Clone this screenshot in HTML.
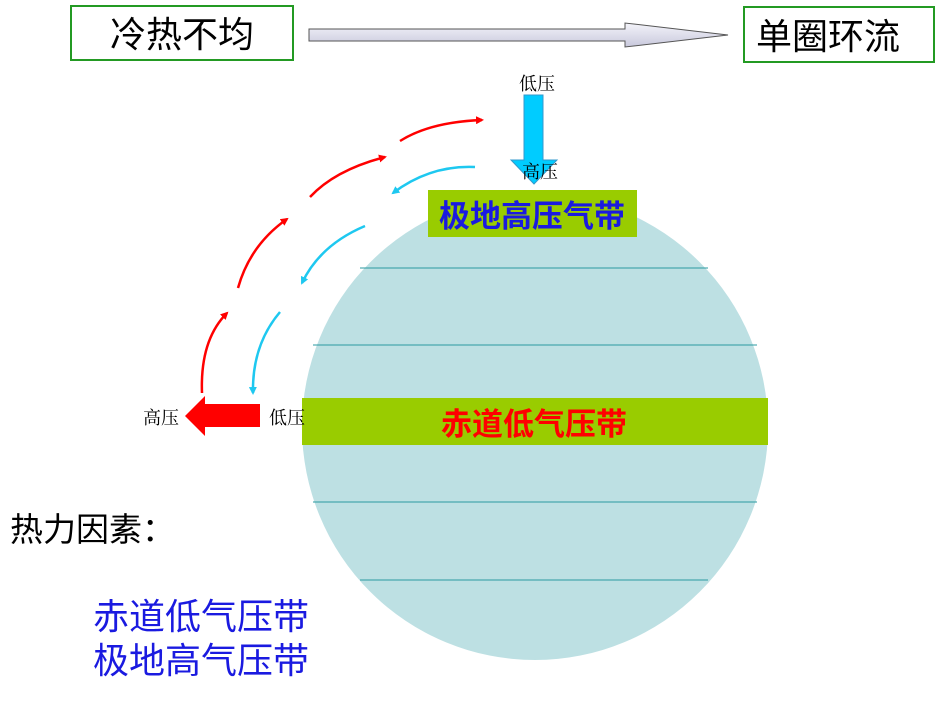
<!DOCTYPE html>
<html><head><meta charset="utf-8"><style>
body{margin:0;width:950px;height:713px;background:#fff;overflow:hidden;font-family:"Liberation Sans","Noto Sans CJK SC",sans-serif}
</style></head><body>
<svg width="950" height="713" xmlns="http://www.w3.org/2000/svg" style="position:absolute;left:0;top:0">
<defs>
<linearGradient id="g" x1="0" y1="0" x2="0" y2="1"><stop offset="0" stop-color="#f4f4fa"/><stop offset="1" stop-color="#c8c8dc"/></linearGradient>
<marker id="mr" markerWidth="8" markerHeight="8" refX="6" refY="4" orient="auto" markerUnits="userSpaceOnUse"><path d="M0,0 L8,4 L0,8 Z" fill="#f00"/></marker>
<marker id="mb" markerWidth="8" markerHeight="8" refX="6" refY="4" orient="auto" markerUnits="userSpaceOnUse"><path d="M0,0 L8,4 L0,8 Z" fill="#1ec8f0"/></marker>
</defs>
<rect x="71" y="6" width="222" height="54" fill="#fff" stroke="#239a23" stroke-width="2"/>
<text x="182" y="47" font-size="36" text-anchor="middle" font-family="Liberation Sans,Noto Sans CJK SC,sans-serif">冷热不均</text>
<rect x="744" y="7" width="190" height="55" fill="#fff" stroke="#239a23" stroke-width="2"/>
<text x="828" y="49" font-size="36" text-anchor="middle" font-family="Liberation Sans,Noto Sans CJK SC,sans-serif">单圈环流</text>
<path d="M309,29 L625,29 L625,23 L728,35 L625,47 L625,41 L309,41 Z" fill="url(#g)" stroke="#555" stroke-width="1"/>
<circle cx="535" cy="427" r="233" fill="#bde0e3"/>
<line x1="360" y1="268" x2="708" y2="268" stroke="#2a9aa0" stroke-width="1"/>
<line x1="313" y1="345" x2="757" y2="345" stroke="#2a9aa0" stroke-width="1"/>
<line x1="313" y1="502" x2="757" y2="502" stroke="#2a9aa0" stroke-width="1"/>
<line x1="360" y1="580" x2="708" y2="580" stroke="#2a9aa0" stroke-width="1"/>
<rect x="428" y="190" width="209" height="47" fill="#99cc00"/>
<text x="532" y="227" font-size="31" font-weight="bold" fill="#1a1ae0" text-anchor="middle" font-family="Liberation Sans,Noto Sans CJK SC,sans-serif">极地高压气带</text>
<rect x="302" y="398" width="466" height="47" fill="#99cc00"/>
<text x="534" y="435" font-size="31" font-weight="bold" fill="#f00" text-anchor="middle" font-family="Liberation Sans,Noto Sans CJK SC,sans-serif">赤道低气压带</text>
<path d="M524,95 L543,95 L543,160 L557,160 L534,184 L511,160 L524,160 Z" fill="#00ccff" stroke="#3399cc" stroke-width="1"/>
<text x="537" y="90" font-size="18" text-anchor="middle" font-family="Liberation Serif,Noto Serif CJK SC,serif">低压</text>
<text x="540" y="178" font-size="18" text-anchor="middle" font-family="Liberation Serif,Noto Serif CJK SC,serif">高压</text>
<path d="M260,404 L205,404 L205,396 L185,416 L205,436 L205,427 L260,427 Z" fill="#f00"/>
<text x="161" y="424" font-size="18" text-anchor="middle" font-family="Liberation Serif,Noto Serif CJK SC,serif">高压</text>
<text x="287" y="424" font-size="18" text-anchor="middle" font-family="Liberation Serif,Noto Serif CJK SC,serif">低压</text>
<g fill="none" stroke="#f00" stroke-width="2.5">
<path d="M202,393 Q200,340 227,313" marker-end="url(#mr)"/>
<path d="M238,288 Q250,245 287,219" marker-end="url(#mr)"/>
<path d="M310,197 Q335,170 385,157" marker-end="url(#mr)"/>
<path d="M400,141 Q430,122 482,120" marker-end="url(#mr)"/>
</g>
<g fill="none" stroke="#1ec8f0" stroke-width="2.5">
<path d="M475,167 Q430,165 393,193" marker-end="url(#mb)"/>
<path d="M365,226 Q320,245 302,283" marker-end="url(#mb)"/>
<path d="M280,312 Q252,345 253,393" marker-end="url(#mb)"/>
</g>
<text x="10" y="541" font-size="33" font-family="Liberation Sans,Noto Sans CJK SC,sans-serif">热力因素：</text>
<text x="93" y="629" font-size="36" fill="#1a1ae0" font-family="Liberation Sans,Noto Sans CJK SC,sans-serif">赤道低气压带</text>
<text x="93" y="673" font-size="36" fill="#1a1ae0" font-family="Liberation Sans,Noto Sans CJK SC,sans-serif">极地高气压带</text>
</svg>
</body></html>
